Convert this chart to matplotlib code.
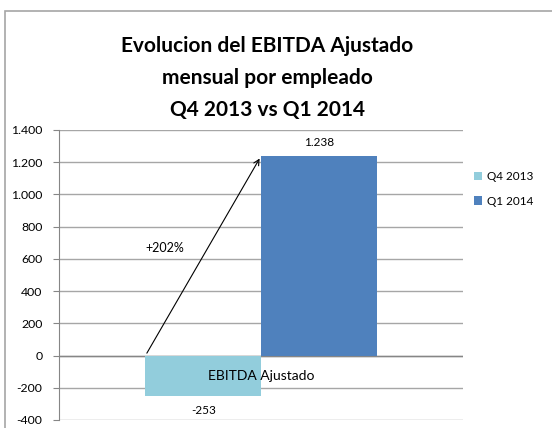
import matplotlib
matplotlib.use("Agg")
import matplotlib.pyplot as plt
from matplotlib.patches import Rectangle

categories = ["EBITDA Ajustado"]
series_names = ["Q4 2013", "Q1 2014"]
series_values = [-253, 1238]
value_labels = ["-253", "1.238"]
change_label = "+202%"
yticks = [-400, -200, 0, 200, 400, 600, 800, 1000, 1200, 1400]
ytick_labels = ["-400", "-200", "0", "200", "400", "600", "800", "1.000", "1.200", "1.400"]
title = "Evolucion del EBITDA Ajustado\nmensual por empleado\nQ4 2013 vs Q1 2014"
colors = ["#92CDDC", "#4F81BD"]

plt.rcParams['font.family'] = ['Lato', 'DejaVu Sans']

fig = plt.figure(figsize=(5.52, 4.28), dpi=100)
# outer chart border
fig.patches.append(Rectangle((5/552, -0.1), 1.2, 1 - 11/428 + 0.1, transform=fig.transFigure,
                             fill=False, edgecolor="#a6a6a6", linewidth=1.2))

ax = fig.add_axes([59/552, 1 - 420/428, 404/552, 290/428])
w = 0.286
xs = [-w/2, w/2]
for x, v, c, name in zip(xs, series_values, colors, series_names):
    ax.bar(x, v, width=w, color=c, label=name, zorder=2)

ax.set_xlim(-0.5, 0.5)
ax.set_ylim(-400, 1400)
ax.set_yticks(yticks)
ax.set_yticklabels(ytick_labels, fontsize=8.8)
ax.tick_params(axis='y', length=4, color="#868686", pad=8)
ax.set_xticks([])
ax.grid(axis='y', color="#a6a6a6", linewidth=1.0, zorder=0)
ax.set_axisbelow(True)
for s in ["top", "right", "bottom"]:
    ax.spines[s].set_visible(False)
ax.spines["left"].set_color("#868686")
ax.axhline(0, color="#868686", linewidth=1.0, zorder=1)

# category label next to zero axis
ax.text(0, -130, categories[0], ha="center", va="center", fontsize=10, zorder=5)

# data labels
ax.text(xs[1], 1320, value_labels[1], ha="center", va="center", fontsize=8.5)
ax.text(xs[0], -340, value_labels[0], ha="center", va="center", fontsize=8.5)

# arrow
ax.annotate("", xy=(0, series_values[1]), xytext=(-w, 0),
            arrowprops=dict(arrowstyle="->", color="black", lw=0.8, mutation_scale=10), zorder=4)
ax.text(-0.238, 668, change_label, ha="center", va="center", fontsize=9)

ax.legend(loc="upper left", bbox_to_anchor=(1.0, 0.895), frameon=False, fontsize=8.5,
          handlelength=0.7, handleheight=0.7, handletextpad=0.4, labelspacing=1.15)

fig.text(267/552, 1 - 78/428, title, ha="center", va="center", fontsize=15, fontweight="bold",
         linespacing=1.75)

fig.savefig("out.png", dpi=100)
